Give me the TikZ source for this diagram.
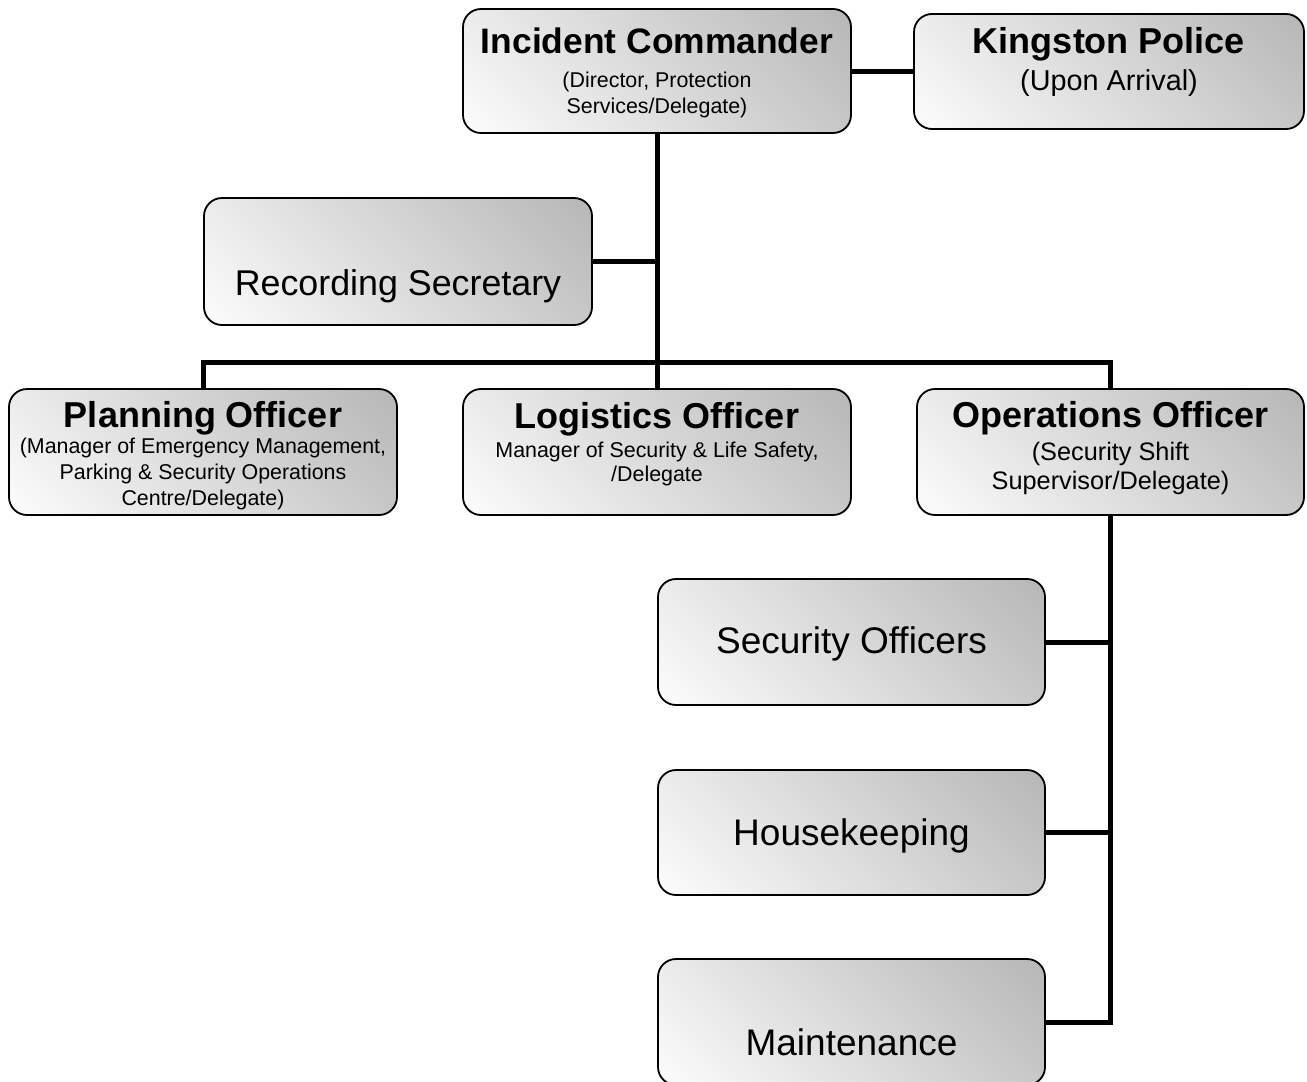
\documentclass[tikz,border=0pt]{standalone}
\usepackage{fontspec}
\setmainfont{Liberation Sans}
\usetikzlibrary{backgrounds}
\definecolor{shlight}{RGB}{251,251,251}
\definecolor{shdark}{RGB}{184,184,184}
\pgfdeclareverticalshading{boxshade}{100bp}{color(0bp)=(shlight); color(16bp)=(shlight); color(84bp)=(shdark); color(100bp)=(shdark)}
\begin{document}
\begin{tikzpicture}[x=1pt,y=-1pt,
  box/.style={draw=black, line width=1.8pt, rounded corners=18pt, outer sep=0pt,
    inner sep=0pt, shading=boxshade, shading angle=-45},
  conn/.style={line width=5pt, draw=black},
  ttl/.style={anchor=base, inner sep=0pt, font=\fontsize{36}{40}\selectfont\bfseries},
  big/.style={anchor=base, inner sep=0pt, font=\fontsize{37}{42}\selectfont},
  sub/.style={anchor=base, inner sep=0pt, font=\fontsize{21.4}{26}\selectfont},
  subm/.style={anchor=base, inner sep=0pt, font=\fontsize{25.3}{29}\selectfont},
  subl/.style={anchor=base, inner sep=0pt, font=\fontsize{28.8}{32}\selectfont}]
\clip (0,0) rectangle (1307,1082);
\useasboundingbox (0,0) rectangle (1307,1082);

% boxes
\node[box, minimum width=388pt, minimum height=124pt] (ic) at (657,71) {};
\node[box, minimum width=390pt, minimum height=115pt] (kp) at (1109,71.5) {};
\node[box, minimum width=388pt, minimum height=127pt] (rs) at (398,261.5) {};
\node[box, minimum width=388pt, minimum height=126pt] (plan) at (203,452) {};
\node[box, minimum width=388pt, minimum height=126pt] (log) at (657,452) {};
\node[box, minimum width=387pt, minimum height=126pt] (ops) at (1110.5,452) {};
\node[box, minimum width=387pt, minimum height=126pt] (so) at (851.5,642) {};
\node[box, minimum width=387pt, minimum height=125pt] (hk) at (851.5,832.5) {};
\node[box, minimum width=387pt, minimum height=126pt] (mt) at (851.5,1022) {};

% texts
\node[ttl, font=\fontsize{35.4}{40}\selectfont\bfseries] (ic1) at (657,53) {Incident Commander};
\node[sub] (ic2) at (657,87) {(Director, Protection};
\node[sub] (ic3) at (657,113) {Services/Delegate)};

\node[ttl] (kp1) at (1109,53) {Kingston Police};
\node[subl] (kp2) at (1109,90) {(Upon Arrival)};

\node[big, font=\fontsize{35.8}{42}\selectfont] (rs1) at (398,295) {Recording Secretary};

\node[ttl] (pl1) at (203,427) {Planning Officer};
\node[sub] (pl2) at (203,453) {(Manager of Emergency Management,};
\node[sub] (pl3) at (203,479) {Parking \& Security Operations};
\node[sub] (pl4) at (203,505) {Centre/Delegate)};

\node[ttl] (lg1) at (657,428) {Logistics Officer};
\node[sub] (lg2) at (657,457) {Manager of Security \& Life Safety,};
\node[sub] (lg3) at (657,481) {/Delegate};

\node[ttl] (op1) at (1110.5,427) {Operations Officer};
\node[subm] (op2) at (1110.5,460) {(Security Shift};
\node[subm] (op3) at (1110.5,489) {Supervisor/Delegate)};

\node[big] (so1) at (851.5,653) {Security Officers};
\node[big] (hk1) at (851.5,845) {Housekeeping};
\node[big] (mt1) at (851.5,1055) {Maintenance};

% connectors
\coordinate (bus) at (657,362);
\begin{pgfonlayer}{background}
\draw[conn] (ic.east) -- (ic.east -| kp.west);
\draw[conn] (ic.south) -- (log.north);
\draw[conn] (rs.east) -- (rs.east -| ic.south);
\draw[conn] (plan.north) |- (bus) -| (ops.north);
\draw[conn] (ops.south) |- (mt.east);
\draw[conn] (so.east) -- (so.east -| ops.south);
\draw[conn] (hk.east) -- (hk.east -| ops.south);
\end{pgfonlayer}
\end{tikzpicture}
\end{document}
